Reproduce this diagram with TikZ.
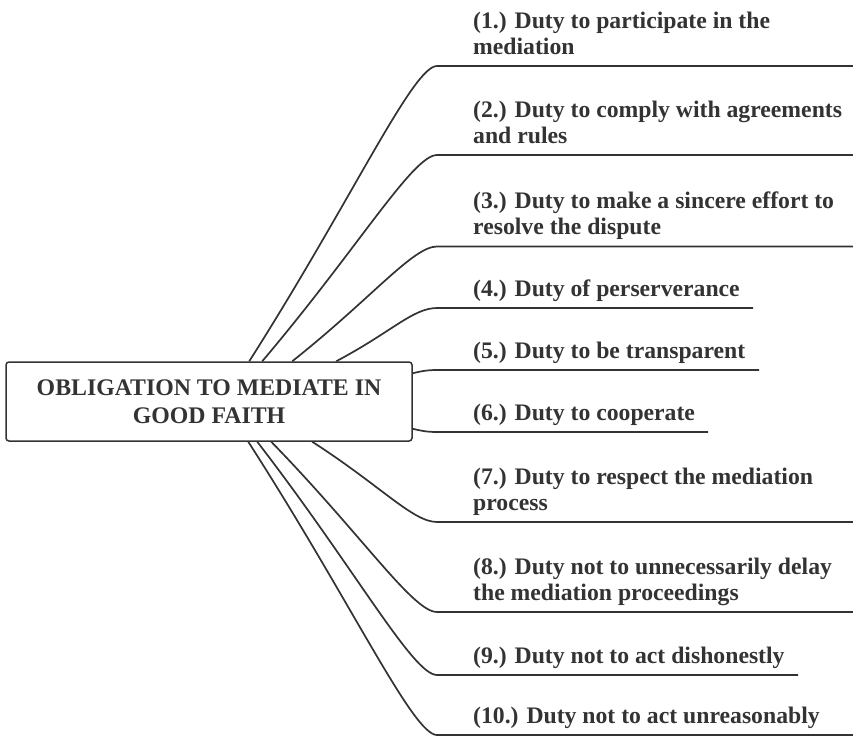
\documentclass[tikz,border=0pt]{standalone}
\usepackage{fontspec}
\setmainfont{Liberation Serif}
\usetikzlibrary{calc}
\definecolor{ink}{HTML}{333333}
\definecolor{wire}{HTML}{333333}
\begin{document}
\begin{tikzpicture}[x=1pt,y=-1pt,
  hub/.style={draw=wire, line width=1.5pt, rounded corners=3pt,
    minimum width=406pt, minimum height=79pt, align=center, inner sep=0pt,
    font=\bfseries\fontsize{23.8}{28}\selectfont, text=ink},
  duty/.style={anchor=base west, align=left, inner sep=0pt,
    font=\bfseries\fontsize{23.7}{26}\selectfont, text=ink},
  branch/.style={draw=wire, line width=1.7pt}]
\useasboundingbox (0,0) rectangle (853,736);

% central topic
\node[hub] (root) at (209,401.5) {OBLIGATION TO MEDIATE IN\\GOOD FAITH};

% where the branches leave the box
\coordinate (s1) at ([xshift=244pt]root.north west);
\coordinate (s2) at ([xshift=257pt]root.north west);
\coordinate (s3) at ([xshift=287pt]root.north west);
\coordinate (s4) at ([xshift=331pt]root.north west);
\coordinate (s5) at ([yshift=-12pt]root.north east);
\coordinate (s6) at ([yshift=13pt]root.south east);
\coordinate (s7) at ([xshift=307pt]root.south west);
\coordinate (s8) at ([xshift=266pt]root.south west);
\coordinate (s9) at ([xshift=252pt]root.south west);
\coordinate (s10) at ([xshift=243pt]root.south west);

% underlines: start and end
\coordinate (u1) at (437,66);   \coordinate (e1) at (853,66);
\coordinate (u2) at (437,155);  \coordinate (e2) at (853,155);
\coordinate (u3) at (437,246.5);\coordinate (e3) at (853,246.5);
\coordinate (u4) at (437,308);  \coordinate (e4) at (753,308);
\coordinate (u5) at (437,370);  \coordinate (e5) at (759,370);
\coordinate (u6) at (437,432);  \coordinate (e6) at (708,432);
\coordinate (u7) at (437,522);  \coordinate (e7) at (853,522);
\coordinate (u8) at (437,612);  \coordinate (e8) at (853,612);
\coordinate (u9) at (437,675);  \coordinate (e9) at (798,675);
\coordinate (u10) at (437,735); \coordinate (e10) at (853,735);

% long branches
\foreach \k in {1,2,3,4,7,8,9,10}{
  \draw[branch] (s\k) .. controls ($(s\k)!0.55!(u\k)$) and ($(u\k)+(-24,0)$) .. (u\k) -- (e\k);
}
% short branches from the right side of the box
\draw[branch] (s5) .. controls ($(s5)+(8,-2)$) and ($(u5)+(-10,0)$) .. (u5) -- (e5);
\draw[branch] (s6) .. controls ($(s6)+(8,2)$) and ($(u6)+(-10,0)$) .. (u6) -- (e6);

% duties (base anchor sits on the last line)
\node[duty] (t1) at ([xshift=36pt,yshift=12pt]u1) {(1.) Duty to participate in the\\mediation};
\node[duty] (t2) at ([xshift=36pt,yshift=12pt]u2) {(2.) Duty to comply with agreements\\and rules};
\node[duty] (t3) at ([xshift=36pt,yshift=12pt]u3) {(3.) Duty to make a sincere effort to\\resolve the dispute};
\node[duty] (t4) at ([xshift=36pt,yshift=12pt]u4) {(4.) Duty of perserverance};
\node[duty] (t5) at ([xshift=36pt,yshift=12pt]u5) {(5.) Duty to be transparent};
\node[duty] (t6) at ([xshift=36pt,yshift=12pt]u6) {(6.) Duty to cooperate};
\node[duty] (t7) at ([xshift=36pt,yshift=12pt]u7) {(7.) Duty to respect the mediation\\process};
\node[duty] (t8) at ([xshift=36pt,yshift=12pt]u8) {(8.) Duty not to unnecessarily delay\\the mediation proceedings};
\node[duty] (t9) at ([xshift=36pt,yshift=12pt]u9) {(9.) Duty not to act dishonestly};
\node[duty] (t10) at ([xshift=36pt,yshift=12pt]u10) {(10.) Duty not to act unreasonably};
\end{tikzpicture}
\end{document}
